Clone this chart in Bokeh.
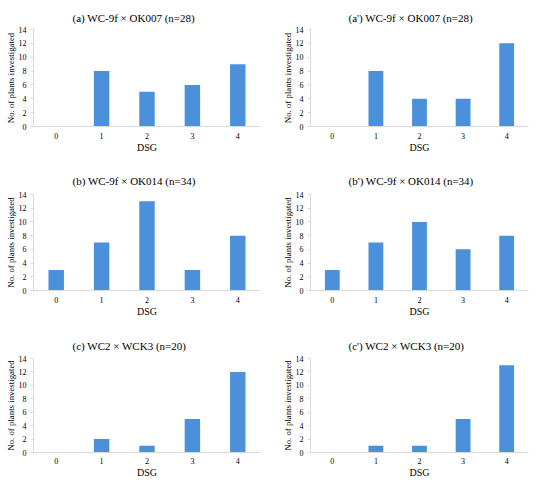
from bokeh.plotting import figure
from bokeh.layouts import gridplot
from bokeh.models import FixedTicker, Range1d, Title
from bokeh.embed import file_html
from bokeh.resources import INLINE

categories = ["0", "1", "2", "3", "4"]
titles = [
    "(a) WC-9f \u00d7 OK007 (n=28)",
    "(a') WC-9f \u00d7 OK007 (n=28)",
    "(b) WC-9f \u00d7 OK014 (n=34)",
    "(b') WC-9f \u00d7 OK014 (n=34)",
    "(c) WC2 \u00d7 WCK3 (n=20)",
    "(c') WC2 \u00d7 WCK3 (n=20)",
]
vals_a = [0, 8, 5, 6, 9]
vals_a2 = [0, 8, 4, 4, 12]
vals_b = [3, 7, 13, 3, 8]
vals_b2 = [3, 7, 10, 6, 8]
vals_c = [0, 2, 1, 5, 12]
vals_c2 = [0, 1, 1, 5, 13]
series = [vals_a, vals_a2, vals_b, vals_b2, vals_c, vals_c2]
y_ticks = [0, 2, 4, 6, 8, 10, 12, 14]
y_label = "No. of plants investigated"
x_label = "DSG"

FONT = "Liberation Serif"
BAR = "#4A90DA"
AXIS = "#D9D9D9"

# layout: (panel height, top border, bottom border, title standoff, x label standoff)
rows = [(162, 29, 36, 12, 6), (166, 32, 38, 15, 6), (152, 30, 26, 13, 5)]
# layout: (left border, right border, title left offset)
cols = [(33, 7, 39), (43, 6, 38)]
W = 267

figs = []
for i, (t, v) in enumerate(zip(titles, series)):
    H, bt, bb, tso, xso = rows[i // 2]
    bl, br, toff = cols[i % 2]
    p = figure(x_range=categories, y_range=Range1d(0, 14), width=W, height=H,
               output_backend="svg", toolbar_location=None,
               min_border_left=bl, min_border_right=br,
               min_border_top=bt, min_border_bottom=bb)
    p.vbar(x=categories, top=v, width=0.34, color=BAR, line_color=None)
    p.add_layout(Title(text=t, align="left", offset=toff, standoff=tso,
                       text_font=FONT, text_font_size="11px",
                       text_font_style="normal", text_color="black"), "above")
    p.xgrid.visible = False
    p.ygrid.visible = False
    p.outline_line_color = None
    p.background_fill_color = "white"
    p.border_fill_color = "white"

    p.yaxis.ticker = FixedTicker(ticks=y_ticks)
    p.yaxis.axis_label = y_label
    p.yaxis.axis_label_text_font = FONT
    p.yaxis.axis_label_text_font_size = "8.8px"
    p.yaxis.axis_label_text_font_style = "normal"
    p.yaxis.axis_label_text_color = "black"
    p.yaxis.axis_label_standoff = 0
    p.yaxis.major_label_text_font = FONT
    p.yaxis.major_label_text_font_size = "8px"
    p.yaxis.major_label_text_color = "black"
    p.yaxis.major_label_standoff = 4
    p.yaxis.axis_line_color = AXIS
    p.yaxis.major_tick_line_color = AXIS
    p.yaxis.major_tick_out = 3
    p.yaxis.major_tick_in = 0
    p.yaxis.minor_tick_line_color = None

    p.xaxis.axis_label = x_label
    p.xaxis.axis_label_text_font = FONT
    p.xaxis.axis_label_text_font_size = "10px"
    p.xaxis.axis_label_text_font_style = "normal"
    p.xaxis.axis_label_text_color = "black"
    p.xaxis.axis_label_standoff = 0
    p.xaxis.major_label_text_font = FONT
    p.xaxis.major_label_text_font_size = "8px"
    p.xaxis.major_label_text_color = "black"
    p.xaxis.major_label_standoff = xso
    p.xaxis.axis_line_color = AXIS
    p.xaxis.major_tick_line_color = None
    p.xaxis.major_tick_out = 0
    p.xaxis.major_tick_in = 0
    p.xaxis.minor_tick_line_color = None
    figs.append(p)

grid = gridplot([[figs[0], figs[1]], [figs[2], figs[3]], [figs[4], figs[5]]],
                toolbar_location=None)

open("out.html", "w").write(file_html(grid, INLINE))
